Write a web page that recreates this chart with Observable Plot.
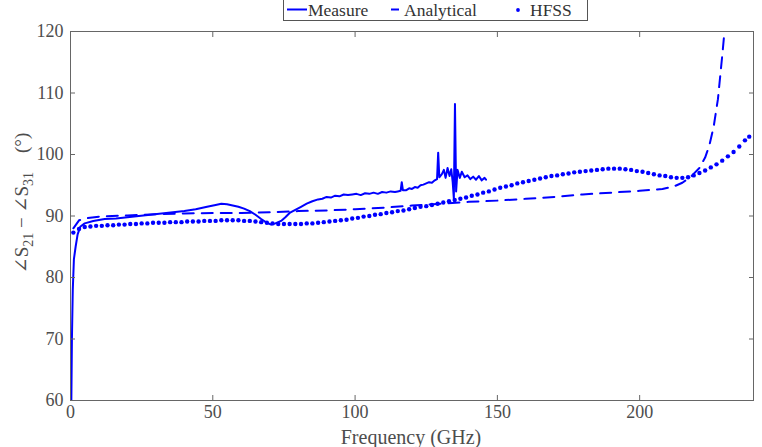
<!DOCTYPE html>
<html><head><meta charset="utf-8">
<script src="https://cdn.jsdelivr.net/npm/d3@7"></script>
<script src="https://cdn.jsdelivr.net/npm/@observablehq/plot@0.6"></script>
<style>body{margin:0;background:#fff}#chart{width:762px;height:447px}
svg text{font-family:"Times New Roman","Liberation Serif",Times,"DejaVu Serif",serif !important;}</style>
</head><body><div id="chart"></div>
<script>
// ---- Data ----
const xTicks = [0, 50, 100, 150, 200];
const yTicks = [60, 70, 80, 90, 100, 110, 120];
const seriesNames = ["Measure", "Analytical", "HFSS"];

const measureFreq = [0.3,0.5,0.8,1.2,1.8,2.5,3.5,5,8,12,16,20,24,28,32,36,40,44,48,51,53,55,57,59,61,63,65,67,69,70.5,72,74,75.5,77,79,81,83,85,87,88.5,90,91.5,93,94.5,96,97.5,99,100.5,102,103.5,105,106.5,108,109.5,111,112.5,114,115,116,116.4,116.8,118,119,120,121,122,123,124,125,126,127,128,128.8,129.2,129.6,130.5,131.2,131.8,132.5,133.2,133.8,134.3,134.7,135.1,135.5,136,136.8,137.5,138.5,139.5,140.5,141.5,142.5,143.5,144.5,145.5,146];
const measureVal  = [60,70,78,83,85,87,88.3,88.8,89.2,89.5,89.6,89.8,90.0,90.2,90.4,90.6,90.8,91.1,91.5,91.8,92.0,91.9,91.7,91.5,91.2,90.8,90.2,89.5,88.9,88.6,88.8,89.2,89.8,90.5,91.0,91.5,92.0,92.4,92.7,92.8,93.1,93.0,93.3,93.2,93.5,93.4,93.5,93.6,93.4,93.7,93.6,93.8,93.6,93.9,93.8,94.0,93.9,94.0,94.1,95.5,94.2,94.2,94.5,94.4,94.7,94.6,95.0,95.1,95.3,95.5,95.4,95.8,96.0,100.3,96.3,96.8,97.5,96.2,97.8,96.5,97.6,95.5,92.8,108.2,94.0,97.5,96.2,97.2,96.3,96.6,96.0,96.4,95.9,96.5,95.8,96.2,95.9];

const analyticalFreq = [1,3,5,10,20,30,40,50,60,70,80,90,100,110,120,130,140,150,160,170,180,190,200,208,212,215,218,221,223,224.5,226,227.5,229,230];
const analyticalVal  = [88.0,89.3,89.6,89.9,90.1,90.3,90.4,90.5,90.5,90.6,90.8,90.9,91.1,91.35,91.7,92.0,92.3,92.5,92.8,93.1,93.5,93.8,94.1,94.4,94.8,95.4,96.4,97.8,99.5,101.5,104.5,109,116,121];

const hfssFreq = [1,3,5,7,9,11,13,15,17,19,21,23,25,27,29,31,33,35,37,39,41,43,45,47,49,51,53,55,57,59,61,63,65,67,69,71,73,75,77,79,81,83,85,87,89,91,93,95,97,99,101,103,105,107,109,111,113,115,117,119,121,123,125,127,129,131,133,135,137,139,141,143,145,147,149,151,153,155,157,159,161,163,165,167,169,171,173,175,177,179,181,183,185,187,189,191,193,195,197,199,201,203,205,207,209,211,213,215,217,219,221,223,225,227,229,231,233,235,237,238.5];
const hfssVal  = [87.3,87.9,88.2,88.3,88.4,88.4,88.5,88.5,88.6,88.6,88.7,88.7,88.8,88.8,88.9,88.9,88.9,89.0,89.0,89.0,89.1,89.1,89.1,89.2,89.2,89.2,89.3,89.3,89.3,89.3,89.2,89.2,89.1,89.0,88.9,88.8,88.7,88.7,88.7,88.7,88.7,88.8,88.8,88.9,89.0,89.1,89.2,89.3,89.4,89.6,89.7,89.9,90.0,90.2,90.3,90.5,90.6,90.8,90.9,91.1,91.3,91.5,91.6,91.8,92.0,92.2,92.4,92.6,92.8,93.0,93.3,93.5,93.8,94.0,94.3,94.6,94.8,95.0,95.3,95.5,95.7,95.9,96.1,96.3,96.5,96.6,96.8,96.9,97.1,97.2,97.3,97.4,97.5,97.6,97.7,97.7,97.7,97.6,97.5,97.3,97.2,97.0,96.8,96.6,96.5,96.3,96.2,96.2,96.3,96.6,97.0,97.4,97.9,98.4,99.0,99.7,100.4,101.3,102.3,102.9];

const measure = measureFreq.map((f, i) => ({f, v: measureVal[i]}));
const analytical = analyticalFreq.map((f, i) => ({f, v: analyticalVal[i]}));
const hfss = hfssFreq.map((f, i) => ({f, v: hfssVal[i]}));

const BLUE = "#0000ff";
const GREY = "#4d4d4d";
const FONT = "Times New Roman, Liberation Serif, serif";

const plot = Plot.plot({
  width: 762, height: 447,
  marginLeft: 70, marginRight: 9, marginTop: 31, marginBottom: 47,
  style: {fontFamily: FONT, fontSize: "18px", color: GREY, background: "white"},
  x: {domain: [0, 240]},
  y: {domain: [60, 120]},
  marks: [
    Plot.line(measure, {x: "f", y: "v", stroke: BLUE, strokeWidth: 2, clip: true}),
    Plot.line(analytical, {x: "f", y: "v", stroke: BLUE, strokeWidth: 2, strokeDasharray: "11,8", clip: true}),
    Plot.dot(hfss, {x: "f", y: "v", r: 2.2, fill: BLUE, stroke: null}),
    Plot.frame({stroke: "#666"}),
    Plot.axisX(xTicks, {anchor: "bottom", tickSize: -5, tickPadding: 10, label: null, stroke: "#666"}),
    Plot.axisX(xTicks, {anchor: "top", tickSize: -5, tickFormat: () => "", label: null, stroke: "#666"}),
    Plot.axisY(yTicks, {anchor: "left", tickSize: -5, tickPadding: 12, label: null, stroke: "#666"}),
    Plot.axisY(yTicks, {anchor: "right", tickSize: -5, tickFormat: () => "", label: null, stroke: "#666"})
  ]
});
document.getElementById("chart").appendChild(plot);

const svg = d3.select(plot);
// X axis title
svg.append("text").attr("x", 411).attr("y", 444).attr("text-anchor", "middle")
  .attr("font-size", 20).attr("fill", GREY).text("Frequency (GHz)");
// Y axis title with subscripts
const yl = svg.append("text").attr("transform", "translate(28,203) rotate(-90)")
  .attr("text-anchor", "middle").attr("font-size", 19).attr("fill", GREY);
yl.append("tspan").text("∠S");
yl.append("tspan").attr("font-size", 14).attr("dy", 5).text("21");
yl.append("tspan").attr("dy", -5).text(" − ∠S");
yl.append("tspan").attr("font-size", 14).attr("dy", 5).text("31");
yl.append("tspan").attr("dy", -5).text("\u00a0\u00a0\u00a0\u00a0(°)");

// Legend
const lg = svg.append("g").attr("font-size", 17.5).attr("fill", "#333").attr("text-anchor", "start");
lg.append("rect").attr("x", 283.5).attr("y", -0.5).attr("width", 304).attr("height", 21)
  .attr("fill", "white").attr("stroke", "#555").attr("stroke-width", 1);
lg.append("line").attr("x1", 287).attr("x2", 307).attr("y1", 9.5).attr("y2", 9.5).attr("stroke", BLUE).attr("stroke-width", 2);
lg.append("text").attr("x", 308).attr("y", 16).text(seriesNames[0]);
lg.append("line").attr("x1", 391).attr("x2", 399).attr("y1", 9.5).attr("y2", 9.5).attr("stroke", BLUE).attr("stroke-width", 2);
lg.append("text").attr("x", 404).attr("y", 16).text(seriesNames[1]);
lg.append("circle").attr("cx", 518).attr("cy", 10).attr("r", 1.9).attr("fill", BLUE);
lg.append("text").attr("x", 530).attr("y", 16).text(seriesNames[2]);
</script></body></html>
